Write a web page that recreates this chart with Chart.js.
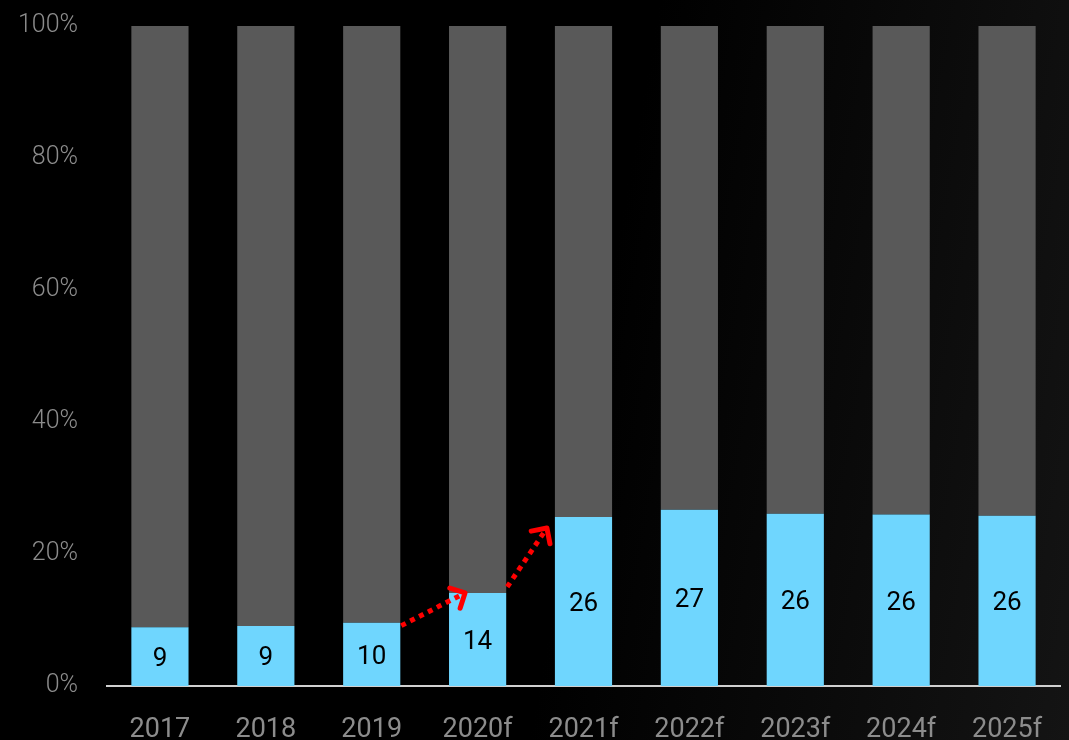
<!DOCTYPE html>
<html>
<head>
<meta charset="utf-8">
<script src="https://cdn.jsdelivr.net/npm/chart.js@4.4.1/dist/chart.umd.min.js"></script>
<style>
  html, body { margin: 0; padding: 0; width: 1069px; height: 740px; overflow: hidden; }
  body { background: linear-gradient(100deg, #000 0%, #000 55%, #0b0b0b 80%, #141414 100%); }
  #wrap { position: relative; width: 1069px; height: 770px; }
</style>
</head>
<body>
<div id="wrap"><canvas id="c" width="1069" height="770"></canvas></div>
<script>
const categories = ['2017', '2018', '2019', '2020f', '2021f', '2022f', '2023f', '2024f', '2025f'];
const blueShare = [8.9, 9.1, 9.6, 14.1, 25.6, 26.7, 26.1, 26.0, 25.8];
const restShare = [91.1, 90.9, 90.4, 85.9, 74.4, 73.3, 73.9, 74.0, 74.2];
const yTickValues = [0, 20, 40, 60, 80, 100];
// arrows between bars (from index -> to index)
const arrowPairs = [[2, 3], [3, 4]];

const FONT = "'Roboto', 'DejaVu Sans Condensed', sans-serif";

const labelPlugin = {
  id: 'barLabels',
  afterDatasetsDraw(chart) {
    const ctx = chart.ctx;
    const meta = chart.getDatasetMeta(0);
    ctx.save();
    ctx.font = '26px ' + FONT;
    ctx.fillStyle = '#000';
    ctx.textAlign = 'center';
    ctx.textBaseline = 'middle';
    meta.data.forEach((bar, i) => {
      const yc = (bar.y + bar.base) / 2;
      ctx.fillText(String(Math.round(blueShare[i])), bar.x, yc + 3);
    });
    ctx.restore();
  }
};

const arrowStyle = [
  { sx: 1, sy: 3, ex: 16, ey: 0 },
  { sx: 1, sy: -6, ex: -8, ey: 11 }
];

const arrowPlugin = {
  id: 'arrows',
  afterDatasetsDraw(chart) {
    const ctx = chart.ctx;
    const meta = chart.getDatasetMeta(0);
    ctx.save();
    ctx.strokeStyle = '#ff0000';
    arrowPairs.forEach(([a, b], k) => {
      const A = meta.data[a], B = meta.data[b];
      const st = arrowStyle[k];
      const x1 = A.x + A.width / 2 + st.sx, y1 = A.y + st.sy;
      const x2 = B.x - B.width / 2 + st.ex, y2 = B.y + st.ey;
      const ang = Math.atan2(y2 - y1, x2 - x1);
      ctx.lineWidth = 5;
      ctx.lineCap = 'butt';
      ctx.setLineDash([5, 5]);
      ctx.beginPath();
      ctx.moveTo(x1, y1);
      ctx.lineTo(x2 - 5 * Math.cos(ang), y2 - 5 * Math.sin(ang));
      ctx.stroke();
      ctx.setLineDash([]);
      ctx.lineCap = 'round';
      ctx.lineJoin = 'round';
      const L = 16, spread = Math.PI / 4;
      ctx.beginPath();
      ctx.moveTo(x2 - L * Math.cos(ang - spread), y2 - L * Math.sin(ang - spread));
      ctx.lineTo(x2, y2);
      ctx.lineTo(x2 - L * Math.cos(ang + spread), y2 - L * Math.sin(ang + spread));
      ctx.stroke();
    });
    ctx.restore();
  }
};

new Chart(document.getElementById('c'), {
  type: 'bar',
  data: {
    labels: categories,
    datasets: [
      { data: blueShare, backgroundColor: '#6fd6fe', borderWidth: 0, categoryPercentage: 1, barPercentage: 0.54 },
      { data: restShare, backgroundColor: '#595959', borderWidth: 0, categoryPercentage: 1, barPercentage: 0.54 }
    ]
  },
  options: {
    responsive: false,
    animation: false,
    events: [],
    layout: { padding: { left: 0, right: 9, top: 26, bottom: 0 } },
    plugins: { legend: { display: false }, tooltip: { enabled: false } },
    scales: {
      x: {
        stacked: true,
        grid: { display: false },
        border: { display: true, color: '#d0d0d0', width: 2 },
        afterFit(axis) { axis.height = 84; },
        ticks: { color: '#8c8c8c', font: { family: FONT, size: 27 }, padding: 20, maxRotation: 0 }
      },
      y: {
        stacked: true,
        min: 0, max: 100,
        afterBuildTicks(axis) { axis.ticks = yTickValues.map(v => ({ value: v })); },
        afterFit(axis) { axis.width = 107; axis.paddingTop = 0; axis.paddingBottom = 0; },
        grid: { display: false },
        border: { display: false },
        ticks: { color: '#8c8c8c', font: { family: FONT, size: 25, weight: 300 }, padding: 21, callback: v => v + '%' }
      }
    }
  },
  plugins: [labelPlugin, arrowPlugin]
});
</script>
</body>
</html>
